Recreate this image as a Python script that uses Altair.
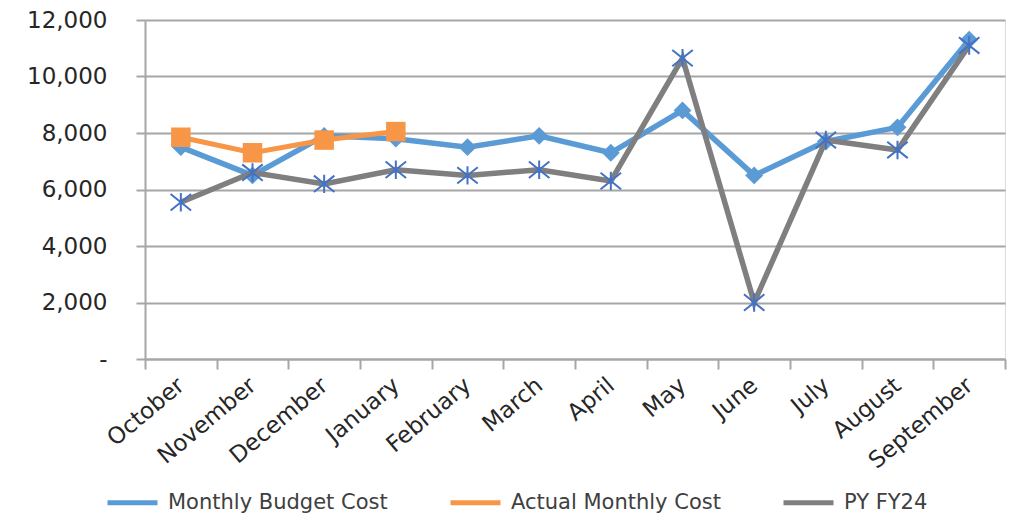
import altair as alt
import pandas as pd

months = ["October", "November", "December", "January", "February", "March",
          "April", "May", "June", "July", "August", "September"]
budget = [7500, 6500, 7900, 7800, 7500, 7900, 7300, 8800, 6500, 7700, 8200, 11300]
actual = [7850, 7300, 7750, 8050]
py_fy24 = [5550, 6600, 6200, 6700, 6500, 6700, 6300, 10650, 2000, 7750, 7400, 11100]

series_names = ["Monthly Budget Cost", "Actual Monthly Cost", "PY FY24"]
series_colors = ["#5B9BD5", "#F79646", "#7F7F7F"]

rows = []
for m, v in zip(months, budget):
    rows.append({"month": m, "series": series_names[0], "value": v})
for m, v in zip(months, actual):
    rows.append({"month": m, "series": series_names[1], "value": v})
for m, v in zip(months, py_fy24):
    rows.append({"month": m, "series": series_names[2], "value": v})
df = pd.DataFrame(rows)

grid_c = "#A6A6A6"
x_enc = alt.X("month:N", sort=months,
              scale=alt.Scale(type="band", paddingInner=0, paddingOuter=0),
              axis=alt.Axis(title=None, labelAngle=-40, labelAlign="right",
                            labelBaseline="middle", tickBand="extent", tickSize=10,
                            tickWidth=2, tickColor=grid_c, domainColor=grid_c,
                            domainWidth=2, labelFontSize=23, labelFont="DejaVu Sans",
                            labelColor="#262626", labelPadding=13, grid=False,
                            labelLimit=0))
y_enc = alt.Y("value:Q", scale=alt.Scale(domain=[0, 12000], nice=False),
              axis=alt.Axis(title=None, values=[0, 2000, 4000, 6000, 8000, 10000, 12000],
                            labelExpr="datum.value == 0 ? '-\u00a0\u00a0' : format(datum.value, ',')",
                            grid=True, gridColor=grid_c, gridWidth=2,
                            domainColor=grid_c, domainWidth=2, tickColor=grid_c,
                            tickSize=9, tickWidth=2, labelFontSize=23,
                            labelFont="DejaVu Sans", labelColor="#262626",
                            labelPadding=29))
color_enc = alt.Color("series:N",
                      scale=alt.Scale(domain=series_names, range=series_colors),
                      sort=series_names,
                      legend=alt.Legend(title=None, orient="none", legendX=-40, legendY=455,
                                        direction="horizontal", symbolType="stroke",
                                        symbolSize=2500, symbolStrokeWidth=5,
                                        labelFontSize=21, labelFont="DejaVu Sans",
                                        labelColor="#404040", labelOffset=8,
                                        columnPadding=52, labelLimit=0))

base = alt.Chart(df)

def series_layer(name, width):
    return base.transform_filter(alt.datum.series == name).mark_line(strokeWidth=width).encode(
        x=x_enc, y=y_enc, color=color_enc)

budget_line = series_layer(series_names[0], 5.5)
budget_pts = base.transform_filter(alt.datum.series == series_names[0]).mark_point(
    shape="diamond", filled=True, size=320, color="#5B9BD5", opacity=1).encode(x=x_enc, y=y_enc)
actual_line = series_layer(series_names[1], 5)
actual_pts = base.transform_filter(alt.datum.series == series_names[1]).mark_point(
    shape="square", filled=True, size=380, color="#F79646", opacity=1).encode(x=x_enc, y=y_enc)
py_line = series_layer(series_names[2], 5.5)
py_pts = base.transform_filter(alt.datum.series == series_names[2]).mark_point(
    shape="M-1,-0.8L1,0.8M-1,0.8L1,-0.8M0,-0.9L0,0.9", filled=False, size=420,
    stroke="#4472C4", strokeWidth=2, opacity=1).encode(x=x_enc, y=y_enc)

chart = alt.layer(budget_line, budget_pts, actual_line, actual_pts, py_line, py_pts).properties(
    width=860, height=339,
    autosize=alt.AutoSizeParams(type="none"),
    padding={"left": 137, "top": 12, "right": 3, "bottom": 155},
).configure_view(stroke=None).configure(background="white")

chart.save("out.html", embed_options={"renderer": "svg", "actions": False})
